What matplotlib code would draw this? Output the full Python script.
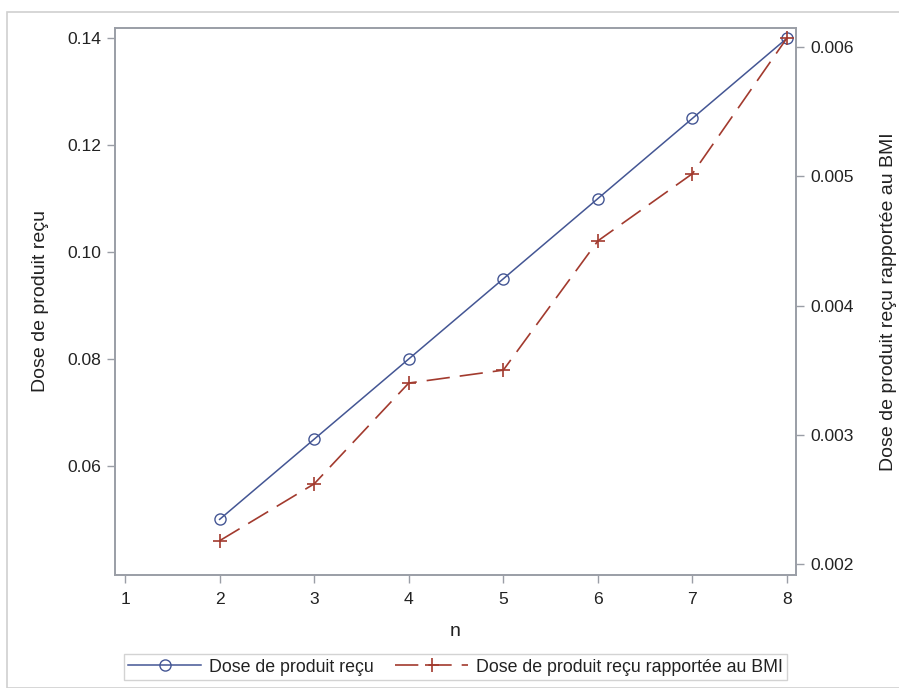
import matplotlib
matplotlib.use("Agg")
import matplotlib.pyplot as plt
from matplotlib.patches import Rectangle

plt.rcParams["font.family"] = ["Liberation Sans", "DejaVu Sans"]

n_values = [2, 3, 4, 5, 6, 7, 8]
dose = [0.05, 0.065, 0.08, 0.095, 0.11, 0.125, 0.14]
dose_bmi = [0.00218, 0.00262, 0.00340, 0.00350, 0.00450, 0.00502, 0.00607]
x_ticks = [1, 2, 3, 4, 5, 6, 7, 8]
left_ticks = [0.06, 0.08, 0.10, 0.12, 0.14]
right_ticks = [0.002, 0.003, 0.004, 0.005, 0.006]

blue = "#445694"
red = "#A23A2E"
axis_gray = "#9a9ea6"
text_col = "#222222"

fig = plt.figure(figsize=(8.99, 6.88), dpi=100)
fig.patches.append(Rectangle((7 / 899, 0), 1.2, (688 - 12) / 688, transform=fig.transFigure,
                             fill=False, edgecolor="#d0d0d0", linewidth=1.2, zorder=0))

ax = fig.add_axes([115 / 899, 113 / 688, 681 / 899, 547 / 688])
ax2 = ax.twinx()

l1, = ax.plot(n_values, dose, color=blue, linewidth=1.1, marker="o", markersize=8,
              markerfacecolor="none", markeredgecolor=blue, markeredgewidth=1.0)
l2, = ax2.plot(n_values, dose_bmi, color=red, linewidth=1.2, marker="+", markersize=10,
               markeredgewidth=1.2, dashes=(14, 6))

ax.set_xlim(0.894, 8.095)
ax.set_ylim(0.0396, 0.1419)
ax2.set_ylim(0.001915, 0.006147)

ax.set_xticks(x_ticks)
ax.set_yticks(left_ticks)
ax.set_yticklabels([f"{v:.2f}" for v in left_ticks])
ax2.set_yticks(right_ticks)
ax2.set_yticklabels([f"{v:.3f}" for v in right_ticks])

for a in (ax, ax2):
    for s in a.spines.values():
        s.set_color(axis_gray)
        s.set_linewidth(1.2)
    a.tick_params(colors=axis_gray, labelcolor=text_col, labelsize=12.6, length=6, width=1, pad=4)
ax.tick_params(axis="x", pad=6)

ax.set_xlabel("n", fontsize=14, color=text_col, labelpad=12)
ax.set_ylabel("Dose de produit reçu", fontsize=14, color=text_col, labelpad=13)
ax2.set_ylabel("Dose de produit reçu rapportée au BMI", fontsize=14, color=text_col, labelpad=19)

leg = fig.legend([l1, l2], ["Dose de produit reçu", "Dose de produit reçu rapportée au BMI"],
                 loc="center", bbox_to_anchor=(455.5 / 899, (688 - 667) / 688), ncol=2,
                 fontsize=12.8, frameon=True, fancybox=False, handlelength=4.1,
                 columnspacing=1.2, borderpad=0.25, handletextpad=0.45)
leg.get_frame().set_edgecolor("#c8c8c8")
leg.get_frame().set_linewidth(1.0)
for t in leg.get_texts():
    t.set_color(text_col)

fig.savefig("out.png", dpi=100)
